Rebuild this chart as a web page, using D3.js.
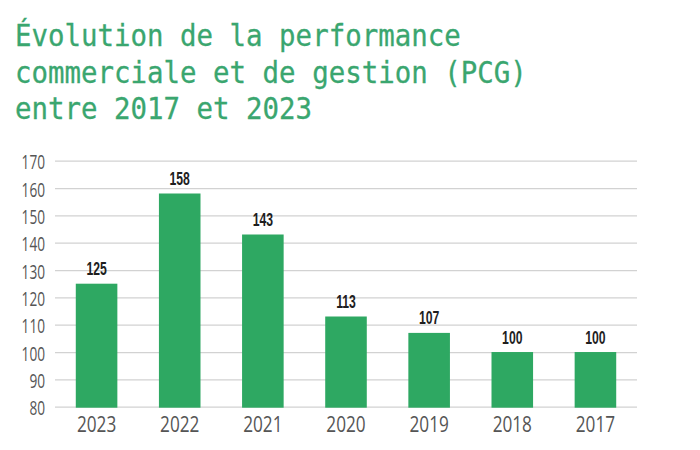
<!DOCTYPE html>
<html><head><meta charset="utf-8">
<script src="https://cdn.jsdelivr.net/npm/d3@7"></script>
<style>
html,body{margin:0;padding:0;background:#fff;}
svg{display:block;}
</style></head>
<body>
<svg id="chart" width="700" height="450"></svg>
<script>
const titleLines = ["Évolution de la performance", "commerciale et de gestion (PCG)", "entre 2017 et 2023"];
const categories = ["2023", "2022", "2021", "2020", "2019", "2018", "2017"];
const values = [125, 158, 143, 113, 107, 100, 100];
const yTicks = [80, 90, 100, 110, 120, 130, 140, 150, 160, 170];

const svg = d3.select("#chart");
const mLeft = 55, mRight = 637, mTop = 160.7, mBottom = 406.7;

svg.append("g").selectAll("text").data(titleLines).join("text")
  .attr("transform", (d, i) => `translate(15,${46 + i * 36.5}) scale(0.93,1)`)
  .attr("font-family", "DejaVu Sans Mono, monospace")
  .attr("font-size", 29.5).attr("fill", "#3aa66f")
  .attr("stroke", "#3aa66f").attr("stroke-width", 0.3)
  .text(d => d);

const x = d3.scaleBand().domain(categories).range([mLeft, mRight]).paddingInner(0.5).paddingOuter(0.25);
const y = d3.scaleLinear().domain([80, 170]).range([mBottom, mTop]);

const yAxis = svg.append("g").attr("transform", `translate(${mLeft},0)`)
  .call(d3.axisLeft(y).tickValues(yTicks).tickSize(-(mRight - mLeft)).tickFormat(d3.format("d")));
yAxis.select(".domain").remove();
yAxis.selectAll(".tick line").attr("stroke", "#d2d2d2").attr("stroke-width", 1.2);
yAxis.selectAll(".tick text").attr("x", 0).attr("transform", "translate(-10,1.5) scale(0.7,1)")
  .attr("fill", "#555").attr("text-anchor", "end")
  .attr("font-family", "Open Sans, sans-serif").attr("font-size", 19.5).attr("dy", "0.34em");

svg.append("g").selectAll("rect").data(values).join("rect")
  .attr("x", (d, i) => x(categories[i]))
  .attr("width", x.bandwidth())
  .attr("y", d => y(d))
  .attr("height", d => y(80) - y(d) + 1)
  .attr("fill", "#2ea862");

svg.append("g").selectAll("text").data(values).join("text")
  .attr("transform", (d, i) => `translate(${x(categories[i]) + x.bandwidth() / 2},${y(d) - 8.5}) scale(0.66,1)`)
  .attr("text-anchor", "middle")
  .attr("font-family", "Liberation Sans, Arial, sans-serif").attr("font-weight", "bold")
  .attr("font-size", 18.5).attr("fill", "#1e1e1e")
  .text(d => d);

const xAxis = svg.append("g").attr("transform", `translate(0,${mBottom})`)
  .call(d3.axisBottom(x).tickSize(0));
xAxis.select(".domain").remove();
xAxis.selectAll(".tick text").attr("y", 0).attr("transform", "translate(0,25) scale(0.8,1)")
  .attr("dy", null).attr("fill", "#555")
  .attr("font-family", "Open Sans, sans-serif").attr("font-size", 21.5);
</script>
</body></html>
